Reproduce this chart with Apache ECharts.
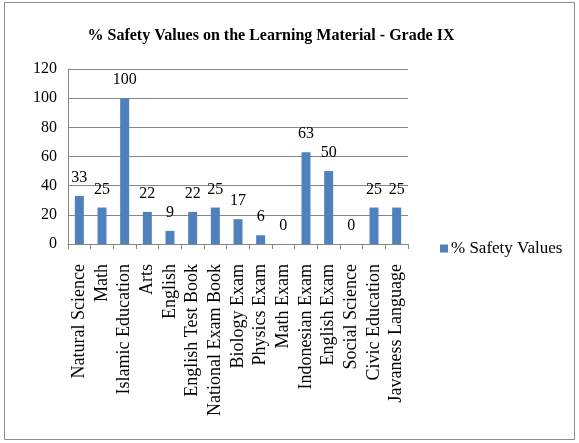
<!DOCTYPE html>
<html>
<head>
<meta charset="utf-8">
<script src="https://cdn.jsdelivr.net/npm/echarts@6/dist/echarts.min.js"></script>
<style>
  html, body { margin: 0; padding: 0; background: #fff; }
  #main { width: 579px; height: 443px; }
</style>
</head>
<body>
<div id="main"></div>
<script>
// data
var subjects = ['Natural Science', 'Math', 'Islamic Education', 'Arts', 'English',
  'English Test Book', 'National Exam Book', 'Biology Exam', 'Physics Exam', 'Math Exam',
  'Indonesian Exam', 'English Exam', 'Social Science', 'Civic Education', 'Javaness Language'];
var safetyValues = [33, 25, 100, 22, 9, 22, 25, 17, 6, 0, 63, 50, 0, 25, 25];
var seriesName = '% Safety Values';

var serif = '"Liberation Serif", "DejaVu Serif", serif';
var myChart = echarts.init(document.getElementById('main'));

myChart.setOption({
    animation: false,
    title: {
        text: '% Safety Values on the Learning Material - Grade IX',
        left: 266,
        top: 23,
        textAlign: 'center',
        textStyle: { fontFamily: serif, fontSize: 16, fontWeight: 'bold', color: '#000' }
    },
    graphic: [{
        type: 'rect',
        shape: { x: 4.5, y: 2.5, width: 570, height: 437 },
        style: { fill: 'none', stroke: '#8c8c8c', lineWidth: 1 }
    }],
    legend: {
        data: [seriesName],
        left: 435,
        top: 235,
        itemWidth: 8,
        itemHeight: 8,
        itemGap: 4,
        icon: 'rect',
        textStyle: { fontFamily: serif, fontSize: 17, color: '#000', padding: [0, 0, 0, -2] }
    },
    grid: {
        left: 68,
        right: 171,
        top: 69,
        bottom: 199
    },
    xAxis: {
        type: 'category',
        data: subjects,
        axisLine: { lineStyle: { color: '#868686' } },
        axisTick: { show: true, length: 5, lineStyle: { color: '#868686' } },
        axisLabel: {
            rotate: 90,
            interval: 0,
            margin: 20,
            fontFamily: serif,
            fontSize: 18,
            color: '#000'
        }
    },
    yAxis: {
        type: 'value',
        min: 0,
        max: 120,
        interval: 20,
        axisLine: { show: true, lineStyle: { color: '#868686' } },
        axisTick: { show: false },
        splitLine: { lineStyle: { color: '#868686', width: 1 } },
        axisLabel: { fontFamily: serif, fontSize: 16, color: '#000', margin: 11 }
    },
    series: [{
        name: seriesName,
        type: 'bar',
        data: safetyValues,
        barWidth: 9,
        itemStyle: { color: '#4f81bd' },
        label: {
            show: true,
            position: 'top',
            distance: 10,
            fontFamily: serif,
            fontSize: 16,
            color: '#000'
        }
    }]
});
</script>
</body>
</html>
